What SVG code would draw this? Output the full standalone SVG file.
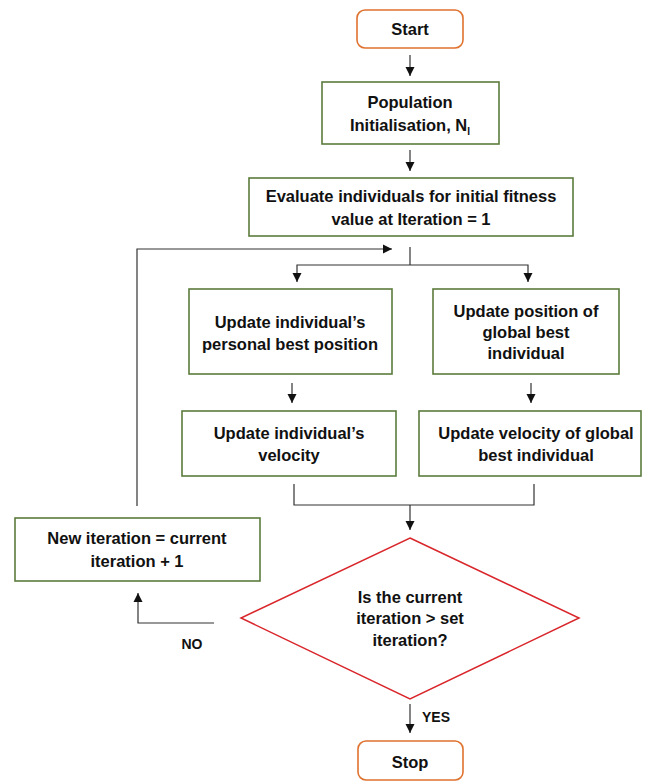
<svg xmlns="http://www.w3.org/2000/svg" width="645" height="782" viewBox="0 0 645 782">
<style>
text{font-family:"Liberation Sans",Arial,sans-serif;font-size:16.5px;font-weight:bold;fill:#111;text-anchor:middle}
.box{fill:#fff;stroke:#5B7B3C;stroke-width:1.6}
.term{fill:#fff;stroke:#E0722F;stroke-width:1.6}
.dec{fill:#fff;stroke:#D9262B;stroke-width:1.5}
.ln{fill:none;stroke:#333;stroke-width:1.2}
</style>
<defs>
<marker id="ah" markerUnits="userSpaceOnUse" markerWidth="10" markerHeight="10" refX="9" refY="5" orient="auto">
<path d="M0,0.5 L9,5 L0,9.5 z" fill="#111"/>
</marker>
</defs>
<rect width="645" height="782" fill="#fff"/>
<g id="connectors">
<path class="ln" d="M410,55 V76" marker-end="url(#ah)"/>
<path class="ln" d="M410,150 V171" marker-end="url(#ah)"/>
<path class="ln" d="M410,247 V265"/>
<path class="ln" d="M410,265 H297 V282" marker-end="url(#ah)"/>
<path class="ln" d="M410,265 H528 V282" marker-end="url(#ah)"/>
<path class="ln" d="M292,383 V403" marker-end="url(#ah)"/>
<path class="ln" d="M531,383 V403" marker-end="url(#ah)"/>
<path class="ln" d="M294,484 V505 H534 V484"/>
<path class="ln" d="M410,505 V530" marker-end="url(#ah)"/>
<path class="ln" d="M410,704 V733" marker-end="url(#ah)"/>
<path class="ln" d="M214,623 H138 V593" marker-end="url(#ah)"/>
<path class="ln" d="M137,506 V249 H392" marker-end="url(#ah)"/>
<text x="192" y="649" style="font-size:14px">NO</text>
<text x="436" y="722" style="font-size:14px">YES</text>
</g>
<g id="start">
<rect class="term" x="357" y="10" width="106" height="38" rx="8"/>
<text x="410" y="35">Start</text>
</g>
<g id="init">
<rect class="box" x="322" y="82" width="177" height="62"/>
<text x="410" y="108">Population</text>
<text x="410" y="131">Initialisation, N<tspan style="font-size:10px" dy="4">I</tspan></text>
</g>
<g id="evaluate">
<rect class="box" x="249" y="178" width="324" height="58"/>
<text x="411" y="202">Evaluate individuals for initial fitness</text>
<text x="411" y="225">value at Iteration = 1</text>
</g>
<g id="pbest">
<rect class="box" x="189" y="289" width="203" height="85"/>
<text x="290" y="328">Update individual’s</text>
<text x="290" y="350">personal best position</text>
</g>
<g id="gbest">
<rect class="box" x="433" y="289" width="186" height="85"/>
<text x="526" y="317">Update position of</text>
<text x="526" y="338">global best</text>
<text x="526" y="359">individual</text>
</g>
<g id="velocity">
<rect class="box" x="182" y="411" width="214" height="65"/>
<text x="289" y="439">Update individual’s</text>
<text x="289" y="461">velocity</text>
</g>
<g id="gvelocity">
<rect class="box" x="419" y="411" width="222" height="65"/>
<text x="536" y="439">Update velocity of global</text>
<text x="536" y="461">best individual</text>
</g>
<g id="newiter">
<rect class="box" x="15" y="518" width="245" height="63"/>
<text x="137" y="544">New iteration = current</text>
<text x="137" y="567">iteration + 1</text>
</g>
<g id="decision">
<polygon class="dec" points="410,538 579,618 410,699 241,618"/>
<text x="410" y="603">Is the current</text>
<text x="410" y="624">iteration &gt; set</text>
<text x="410" y="646">iteration?</text>
</g>
<g id="stop">
<rect class="term" x="358" y="741" width="105" height="39" rx="8"/>
<text x="410" y="768">Stop</text>
</g>
</svg>
